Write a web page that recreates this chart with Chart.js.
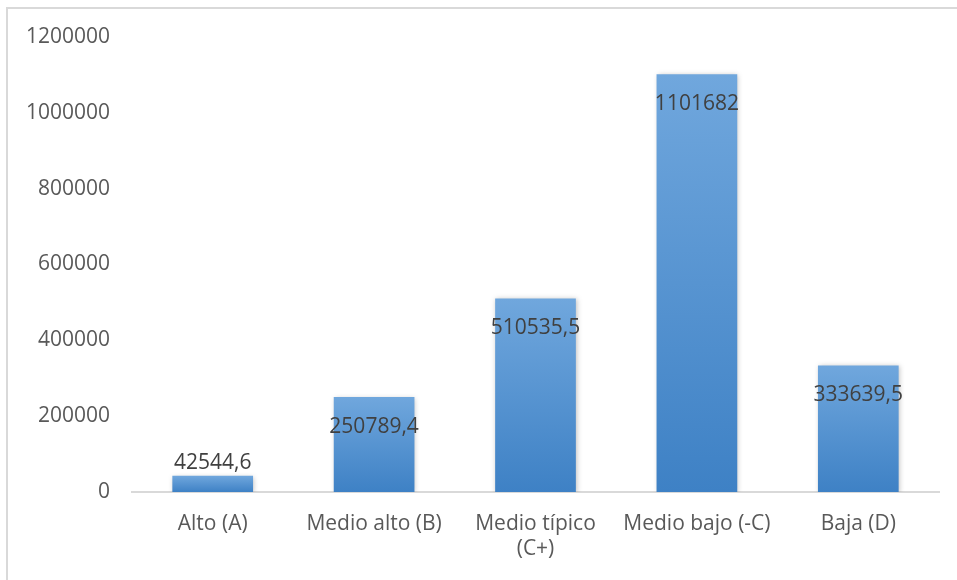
<!DOCTYPE html>
<html>
<head>
<meta charset="utf-8">
<script src="https://cdn.jsdelivr.net/npm/chart.js@4.4.1/dist/chart.umd.min.js"></script>
<style>
  body { margin: 0; background: #fff; overflow: hidden; }
  #frame { position: absolute; left: 6px; top: 7px; width: 980px; height: 571px; border: 2px solid #d9d9d9; }
  #chart { position: absolute; left: 0; top: 0; }
</style>
</head>
<body>
<div id="frame"></div>
<canvas id="chart" width="957" height="580"></canvas>
<script>
const categories = ['Alto (A)', 'Medio alto (B)', ['Medio típico', '(C+)'], 'Medio bajo (-C)', 'Baja (D)'];
const values = [42544.6, 250789.4, 510535.5, 1101682, 333639.5];
const valueLabels = ['42544,6', '250789,4', '510535,5', '1101682', '333639,5'];
const yTicks = [0, 200000, 400000, 600000, 800000, 1000000, 1200000];

const fontFamily = '"Open Sans", sans-serif';

// gradient per bar, light at the top and darker at the base
function barGradient(context) {
    const chart = context.chart;
    const yScale = chart.scales.y;
    if (!chart.chartArea || !yScale) {
        return '#5596d6';
    }
    const top = yScale.getPixelForValue(values[context.dataIndex]);
    const base = yScale.getPixelForValue(0);
    const g = chart.ctx.createLinearGradient(0, top, 0, base);
    g.addColorStop(0, '#70a7dd');
    g.addColorStop(1, '#3e81c5');
    return g;
}

const shadowPlugin = {
    id: 'barShadow',
    beforeDatasetsDraw(chart) {
        const ctx = chart.ctx;
        ctx.save();
        ctx.shadowColor = 'rgba(0,0,0,0.25)';
        ctx.shadowBlur = 5;
        ctx.shadowOffsetX = 1;
        ctx.shadowOffsetY = 1;
    },
    afterDatasetsDraw(chart) {
        chart.ctx.restore();
    }
};

const labelPlugin = {
    id: 'valueLabels',
    afterDatasetsDraw(chart) {
        const ctx = chart.ctx;
        const meta = chart.getDatasetMeta(0);
        ctx.save();
        ctx.font = '21px ' + fontFamily;
        ctx.fillStyle = '#404040';
        ctx.textAlign = 'center';
        ctx.textBaseline = 'middle';
        meta.data.forEach((bar, i) => {
            const h = bar.base - bar.y;
            const y = h < 45 ? bar.y - 13 : bar.y + 30;
            ctx.fillText(valueLabels[i], bar.x, y);
        });
        ctx.restore();
    }
};

new Chart(document.getElementById('chart'), {
    type: 'bar',
    data: {
        labels: categories,
        datasets: [{
            data: values,
            backgroundColor: barGradient,
            borderWidth: 0,
            barPercentage: 0.5,
            categoryPercentage: 1.0
        }]
    },
    options: {
        responsive: false,
        animation: false,
        events: [],
        layout: { padding: { top: 37, right: 18, left: 0, bottom: 0 } },
        plugins: {
            legend: { display: false },
            tooltip: { enabled: false }
        },
        scales: {
            x: {
                grid: { display: false, drawTicks: false },
                border: { display: true, color: '#d9d9d9', width: 2 },
                ticks: {
                    color: '#595959',
                    font: { family: fontFamily, size: 21, lineHeight: 1.19 },
                    padding: 20,
                    maxRotation: 0,
                    autoSkip: false
                },
                afterFit(scale) { scale.height = 88; }
            },
            y: {
                min: 0,
                max: 1200000,
                grid: { display: false, drawTicks: false },
                border: { display: false },
                afterBuildTicks(scale) {
                    scale.ticks = yTicks.map(v => ({ value: v }));
                },
                ticks: {
                    color: '#595959',
                    font: { family: fontFamily, size: 21 },
                    padding: 22,
                    callback: v => String(v)
                },
                afterFit(scale) { scale.width = 132; }
            }
        }
    },
    plugins: [shadowPlugin, labelPlugin]
});
</script>
</body>
</html>
